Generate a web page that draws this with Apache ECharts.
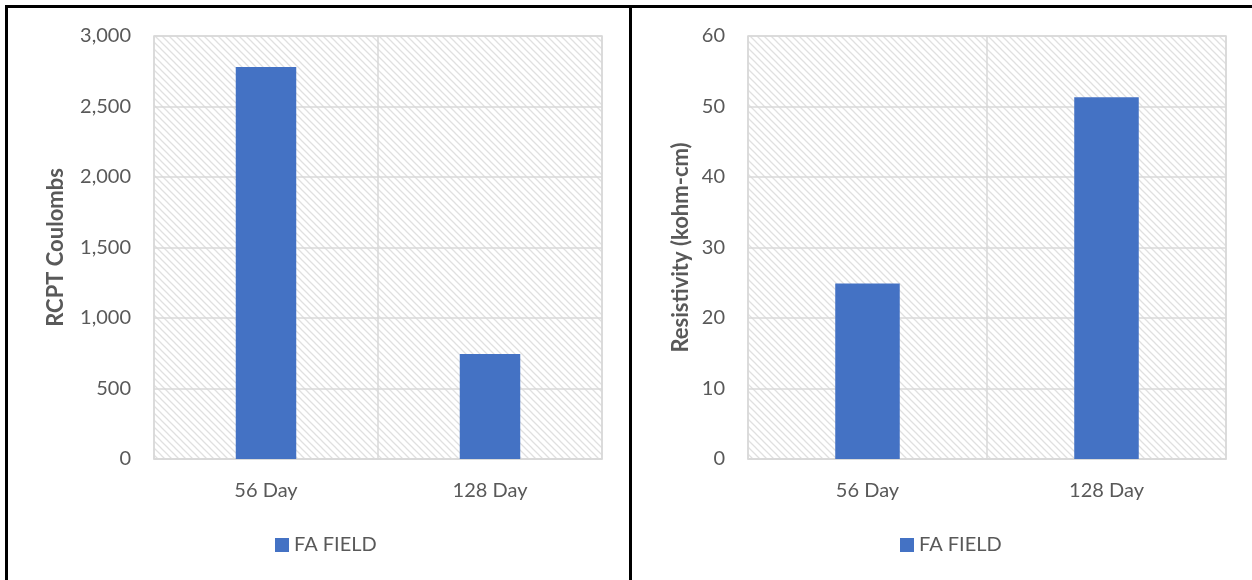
<!DOCTYPE html>
<html>
<head>
<meta charset="utf-8">
<script src="https://cdn.jsdelivr.net/npm/echarts@6/dist/echarts.min.js"></script>
<style>html,body{margin:0;padding:0;background:#fff;}#c{width:1252px;height:580px;}</style>
</head>
<body>
<div id="c"></div>
<script>
const categories = ['56 Day', '128 Day'];
const rcptValues = [2780, 745];
const resistivityValues = [24.9, 51.3];
const seriesName = 'FA FIELD';
const rcptTicks = { min: 0, max: 3000, interval: 500 };
const resTicks = { min: 0, max: 60, interval: 10 };

const FONT = 'Lato';
const TXT = '#595959';
const GRID = '#d9d9d9';
const BAR = '#4472C4';

function hatch() {
  const s = 7;
  const c = document.createElement('canvas');
  c.width = s; c.height = s;
  const g = c.getContext('2d');
  g.fillStyle = '#ffffff';
  g.fillRect(0, 0, s, s);
  g.strokeStyle = '#e0e0e0';
  g.lineWidth = 1.3;
  g.beginPath();
  g.moveTo(-1, -1); g.lineTo(s + 1, s + 1);
  g.moveTo(-1, s - 1); g.lineTo(1, s + 1);
  g.moveTo(s - 1, -1); g.lineTo(s + 1, 1);
  g.stroke();
  return c;
}
const pattern = { image: hatch(), repeat: 'repeat' };

function xAxis(gi) {
  return {
    type: 'category', gridIndex: gi, data: categories,
    axisLine: { show: true, lineStyle: { color: GRID, width: 1.5 } },
    axisTick: { show: false },
    splitLine: { show: true, lineStyle: { color: GRID, width: 1.5 } },
    axisLabel: { color: TXT, fontFamily: FONT, fontSize: 20, margin: 22 }
  };
}
function yAxis(gi, t, name, gap, fmt) {
  return {
    type: 'value', gridIndex: gi, min: t.min, max: t.max, interval: t.interval,
    name: name, nameLocation: 'middle', nameGap: gap,
    nameTextStyle: { color: TXT, fontFamily: FONT, fontSize: 22, fontWeight: 'bold' },
    axisLine: { show: false }, axisTick: { show: false },
    splitLine: { show: true, lineStyle: { color: GRID, width: 1.5 } },
    axisLabel: { color: TXT, fontFamily: FONT, fontSize: 20, margin: 23, formatter: fmt }
  };
}

const chart = echarts.init(document.getElementById('c'));
chart.setOption({
  animation: false,
  backgroundColor: '#ffffff',
  grid: [
    { left: 154, right: 650, top: 36, bottom: 121, show: true, backgroundColor: pattern, borderColor: GRID, borderWidth: 1.5 },
    { left: 748, right: 26, top: 36, bottom: 121, show: true, backgroundColor: pattern, borderColor: GRID, borderWidth: 1.5 }
  ],
  xAxis: [xAxis(0), xAxis(1)],
  yAxis: [
    yAxis(0, rcptTicks, 'RCPT Coulombs', 87, v => v.toLocaleString('en-US')),
    yAxis(1, resTicks, 'Resistivity (kohm-cm)', 56, v => String(v))
  ],
  legend: [
    { data: [seriesName], left: 270, top: 530, icon: 'rect', itemWidth: 14, itemHeight: 14, itemGap: 5,
      textStyle: { color: TXT, fontFamily: FONT, fontSize: 20 } },
    { data: [seriesName], left: 895, top: 530, icon: 'rect', itemWidth: 14, itemHeight: 14, itemGap: 5,
      textStyle: { color: TXT, fontFamily: FONT, fontSize: 20 } }
  ],
  series: [
    { name: seriesName, type: 'bar', xAxisIndex: 0, yAxisIndex: 0, data: rcptValues, barWidth: '27%', itemStyle: { color: BAR } },
    { name: seriesName, type: 'bar', xAxisIndex: 1, yAxisIndex: 1, data: resistivityValues, barWidth: '27%', itemStyle: { color: BAR } }
  ],
  graphic: [
    { type: 'line', shape: { x1: 5, y1: 6.5, x2: 1252, y2: 6.5 }, style: { stroke: '#000', lineWidth: 3 } },
    { type: 'line', shape: { x1: 6.5, y1: 5, x2: 6.5, y2: 580 }, style: { stroke: '#000', lineWidth: 3 } },
    { type: 'line', shape: { x1: 630.5, y1: 5, x2: 630.5, y2: 580 }, style: { stroke: '#000', lineWidth: 3 } }
  ]
});
</script>
</body>
</html>
